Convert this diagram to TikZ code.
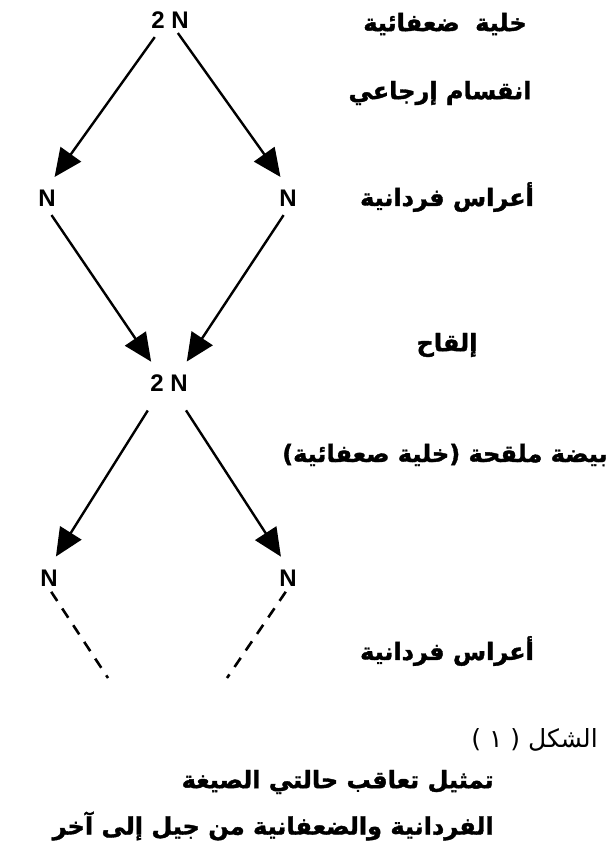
\documentclass[tikz,border=0pt]{standalone}
\usepackage{fontspec}
\setmainfont{Liberation Sans}
\newfontfamily\arabicfont[Script=Arabic, BoldFeatures={FakeBold=1.5}]{DejaVu Sans}
\TeXXeTstate=1
\usetikzlibrary{arrows.meta, positioning}

\begin{document}
\begin{tikzpicture}[x=1pt, y=-1pt,
    every node/.style={font=\bfseries\fontsize{24}{28}\selectfont, inner sep=2pt},
    pfeil/.style={line width=2.4pt, -{Triangle[length=28pt,width=25pt]}, shorten >=13pt},
    strich/.style={line width=2.6pt, dash pattern=on 11pt off 9pt, shorten <=4pt},
    arab/.style={font=\arabicfont\bfseries\fontsize{24}{28}\selectfont},
    titel/.style={font=\arabicfont\bfseries\fontsize{24}{28}\selectfont, anchor=east}]
  \useasboundingbox (0,0) rectangle (612,848);

  % Zellen
  \node (oben) at (170,20) {2 N};
  \node (n1) at (47,198) {N};
  \node (n2) at (288,198) {N};
  \node (mitte) at (169,383) {2 N};
  \node (n3) at (49,578) {N};
  \node (n4) at (288,578) {N};
  \coordinate (e1) at (108,678);
  \coordinate (e2) at (227,678);

  % Pfeile
  \foreach \a/\b/\s in {oben.-135/n1.north/8, oben.-60/n2.north/3,
                        n1.south/mitte.135/8, n2.south/mitte.45/8,
                        mitte.-135/n3.north/20, mitte.-60/n4.north/20} {
      \draw[pfeil, shorten <=\s pt] (\a) -- (\b);
  }
  \draw[strich] (n3.south) -- (e1);
  \draw[strich] (n4.south) -- (e2);

  % Beschriftungen
  \node[arab] (diploid) at (445,24) {\beginR خلية\hspace{0.3em} ضعفائية\endR};
  \node[arab] (meiose) at (440,93) {\beginR انقسام إرجاعي\endR};
  \node[arab] (gameten) at (447,197) {\beginR أعراس فردانية\endR};
  \node[arab] (befr) at (447,345) {\beginR إلقاح\endR};
  \node[arab] (zygote) at (445,455) {\beginR بيضة ملقحة (خلية صعفائية)\endR};
  \node[arab] (gameten2) at (447,651) {\beginR أعراس فردانية\endR};

  % Titel
  \node[titel, font=\arabicfont\fontsize{25}{29}\selectfont] (schild) at (600,740)
      {\beginR الشكل ( ١ )\endR};
  \node[titel] (zeile1) at (496,782) {\beginR تمثيل تعاقب حالتي الصيغة\endR};
  \node[titel] (zeile2) at (496,826) {\beginR الفردانية والضعفانية من جيل إلى آخر\endR};
\end{tikzpicture}
\end{document}
